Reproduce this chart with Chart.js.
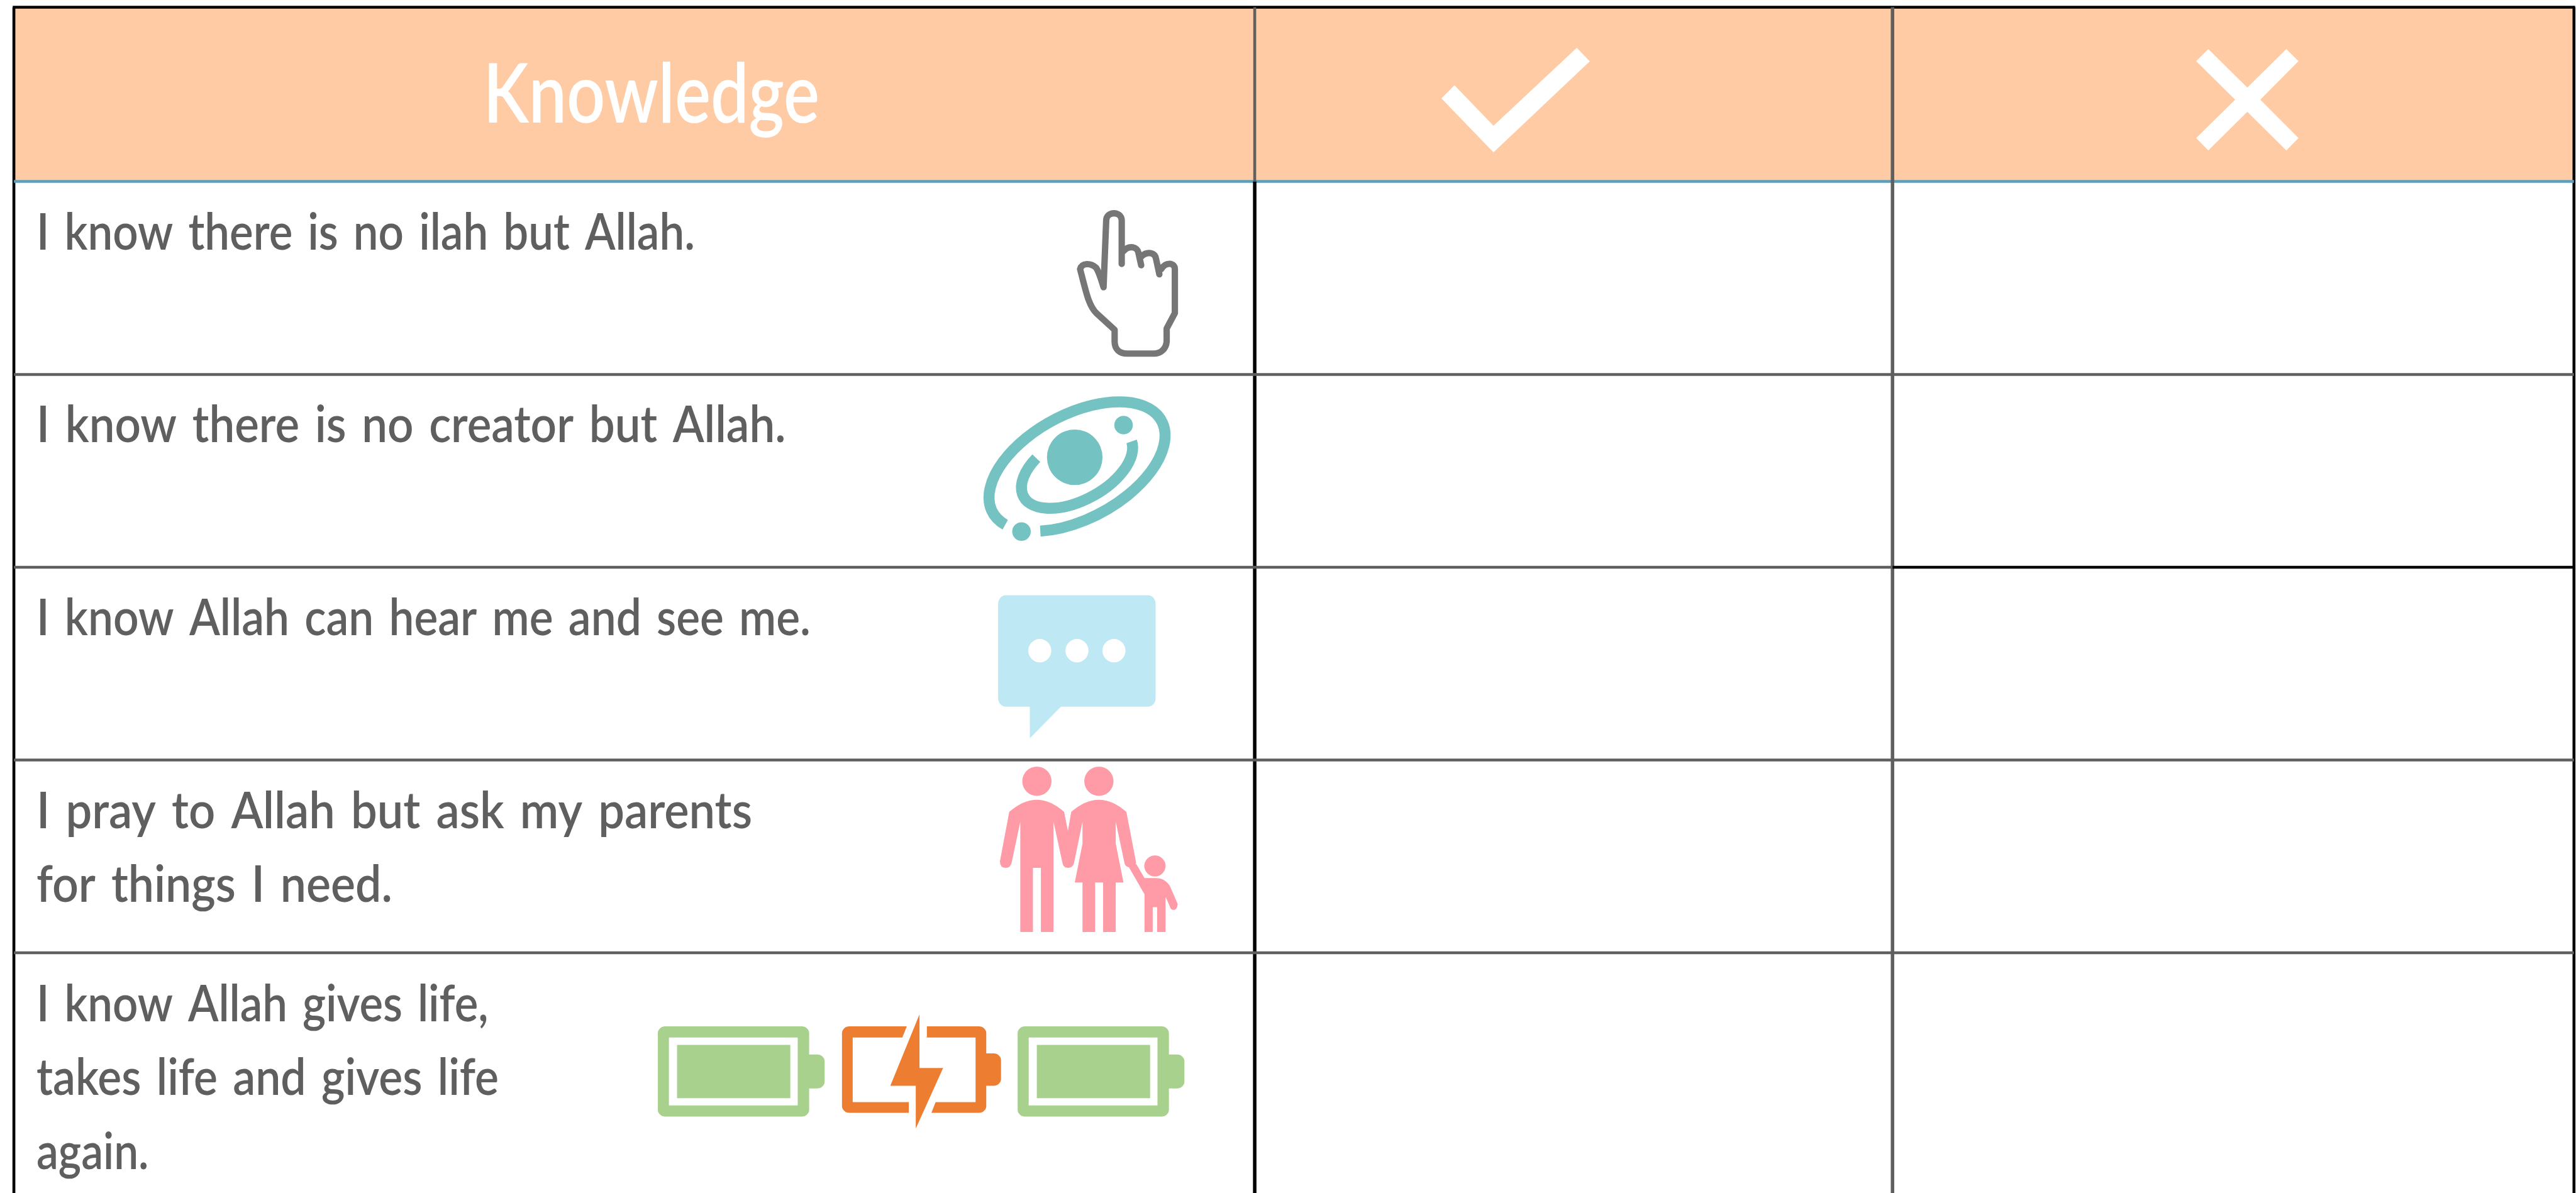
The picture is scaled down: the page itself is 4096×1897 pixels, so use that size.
<!DOCTYPE html>
<html><head><meta charset="utf-8">
<style>html,body{margin:0;padding:0;background:#fff;overflow:hidden}canvas{display:block}</style>
<script src="https://cdn.jsdelivr.net/npm/chart.js@4"></script>
</head><body><canvas id="c" width="4096" height="1897"></canvas>
<script>
// ---- table content ----
const headerLabel = "Knowledge";
const rowTexts = [
  ["I know there is no ilah but Allah."],
  ["I know there is no creator but Allah."],
  ["I know Allah can hear me and see me."],
  ["I pray to Allah but ask my parents", "for things I need."],
  ["I know Allah gives life,", "takes life and gives life", "again."]
];
// ---- reference-space layout (4451 x 2061) ----
const columnEdges = [24, 2168, 3270, 4447.5];
const rowEdges = [12.5, 313.5, 647, 980, 1313, 1646, 2061];
const textLeft = 63;
const rowBaselines = [[431],[764],[1097],[1430.5,1558],[1764,1892,2020]];
const rowWidths = [[1138],[1295],[1338],[1237,615],[781,799,194]];
// ---- colours ----
const peach="#FFCBA4", blue="#5B9FBD", gray="#5F5F5F", ink="#000000";

const vert = (x,a,b,c,w)=>({data:[{x,y:a},{x,y:b}],borderColor:c,borderWidth:w*0.92,pointRadius:0,fill:false,order:0});
const horiz = (y,a,b,c,w)=>({data:[{x:a,y},{x:b,y}],borderColor:c,borderWidth:w*0.92,pointRadius:0,fill:false,order:0});
const L=columnEdges[0],C1=columnEdges[1],C2=columnEdges[2],R=columnEdges[3];
const datasets=[
  {data:[{x:L,y:rowEdges[0]},{x:R,y:rowEdges[0]}],borderWidth:0,pointRadius:0,fill:false,order:5},
  {data:[{x:L,y:rowEdges[1]},{x:R,y:rowEdges[1]}],borderWidth:0,pointRadius:0,fill:'-1',backgroundColor:peach,order:5},
  horiz(rowEdges[2],L,R,gray,5), horiz(rowEdges[3],L,C2,gray,5), horiz(rowEdges[3],C2,R,ink,5),
  horiz(rowEdges[4],L,R,gray,5), horiz(rowEdges[5],L,R,gray,5),
  vert(C1,rowEdges[0],rowEdges[1],gray,5), vert(C2,rowEdges[0],rowEdges[6],gray,6),
  vert(C1,rowEdges[1],rowEdges[6],ink,6),
  horiz(rowEdges[1],L,R,blue,5),
  horiz(rowEdges[0],L-2,R+2,ink,5),
  vert(L,rowEdges[0],rowEdges[6],ink,5), vert(R,rowEdges[0],rowEdges[6],ink,5)
];

const K=0.92;
function inZoom(ctx,ox,oy,sx,sy,fn){ctx.save();ctx.translate(ox*K,oy*K);ctx.scale(K/sx,K/sy);ctx.beginPath();fn(ctx);ctx.restore();}
function poly(c,pts){pts.forEach((p,i)=>i?c.lineTo(p[0],p[1]):c.moveTo(p[0],p[1]));c.closePath();}

const tablePlugin={id:'tablePlugin',afterDatasetsDraw(chart){
  const ctx=chart.ctx,xs=chart.scales.x,ys=chart.scales.y;
  const px=v=>xs.getPixelForValue(v),py=v=>ys.getPixelForValue(v);
  ctx.save();
  // header text and marks
  ctx.textBaseline='alphabetic';ctx.textAlign='left';
  ctx.fillStyle='#fff';
  ctx.font='600 '+(143*K)+'px Lato';
  ctx.fillText(headerLabel,px(835),py(212),581*K);
  inZoom(ctx,2100,0,0.667,3,c=>{
    poly(c,[[276,442],[321,652],[417,248],[432,318],[321,790],[261,510]]);
    poly(c,[[1145,254],[1190,454],[1235,254],[1249,317],[1205,517],[1249,716],[1235,780],[1190,580],[1145,780],[1131,716],[1176,517],[1131,317]]);
  });
  ctx.fill('nonzero');
  // row text
  ctx.fillStyle=gray;
  ctx.font='600 '+(88*K)+'px Lato';
  ctx.wordSpacing=(8*K)+'px';
  rowTexts.forEach((lines,r)=>lines.forEach((t,i)=>{
    ctx.fillText(t,px(textLeft),py(rowBaselines[r][i]),rowWidths[r][i]*K);
  }));
  ctx.wordSpacing='0px';
  // hand
  inZoom(ctx,1600,300,2.613,2.24,c=>{
    c.moveTo(803,440);c.lineTo(815,180);c.bezierCurveTo(818,145,882,145,885,180);c.lineTo(885,350);
    c.moveTo(893,300);c.bezierCurveTo(920,275,955,285,960,305);c.lineTo(973,355);
    c.moveTo(975,320);c.bezierCurveTo(1000,300,1035,305,1040,330);c.lineTo(1055,390);
    c.moveTo(1063,370);c.bezierCurveTo(1085,340,1125,345,1125,370);c.lineTo(1125,540);c.lineTo(1088,600);c.lineTo(1088,650);
    c.bezierCurveTo(1085,680,1060,697,1030,697);c.lineTo(910,697);c.bezierCurveTo(875,697,853,680,853,650);c.lineTo(853,605);
    c.lineTo(770,540);c.bezierCurveTo(735,510,725,460,697,370);c.bezierCurveTo(705,345,745,345,770,365);c.bezierCurveTo(785,385,795,420,803,440);
  });
  ctx.strokeStyle='#767676';ctx.lineWidth=11*K;ctx.lineJoin='round';ctx.lineCap='round';ctx.stroke();
  // galaxy
  const deg=Math.PI/180;
  ctx.strokeStyle='#75C2C2';ctx.fillStyle='#75C2C2';ctx.lineWidth=19*K;ctx.lineCap='butt';
  ctx.beginPath();ctx.ellipse(px(1861),py(806),166*K,90*K,-28.4*deg,161*deg,131*deg);ctx.stroke();
  ctx.beginPath();ctx.ellipse(px(1861),py(808),105*K,56*K,-28.4*deg,5*deg,239*deg);ctx.stroke();
  [[1857,790,48],[1941.4,734.4,16],[1765,918.3,16]].forEach(d=>{ctx.beginPath();ctx.arc(px(d[0]),py(d[1]),d[2]*K,0,7);ctx.fill();});
  // speech bubble
  ctx.fillStyle='#BEE9F4';
  inZoom(ctx,1600,990,2.613,2.376,c=>{
    c.roundRect(327,92,711,458,[35]);
  });
  ctx.fill();
  inZoom(ctx,1600,990,2.613,2.376,c=>{
    poly(c,[[470,545],[616,545],[470,680]]);
  });
  ctx.fill();
  ctx.fillStyle='#fff';
  inZoom(ctx,1600,990,2.613,2.376,c=>{
    [515,683,850].forEach(x=>{c.moveTo(x+52,320);c.ellipse(x,320,52,48,0,0,7);});
  });
  ctx.fill();
  // family
  ctx.fillStyle='#FE9BA6';
  inZoom(ctx,1600,990,2.613,2.376,c=>{
    c.moveTo(568,856);c.ellipse(502,856,66,60,0,0,7);
    c.moveTo(848,856);c.ellipse(782,856,66,60,0,0,7);
    c.moveTo(1083,1204);c.ellipse(1035,1204,48,43,0,0,7);
    // man
    c.moveTo(377,982);c.quadraticCurveTo(502,882,625,982);c.lineTo(670,1190);
    c.quadraticCurveTo(665,1212,643,1212);c.quadraticCurveTo(620,1212,617,1190);
    c.lineTo(577,1022);c.lineTo(577,1475);c.lineTo(520,1475);c.lineTo(520,1212);c.lineTo(484,1212);c.lineTo(484,1475);c.lineTo(427,1475);c.lineTo(427,1022);
    c.lineTo(388,1190);c.quadraticCurveTo(383,1212,362,1212);c.quadraticCurveTo(335,1212,335,1185);c.closePath();
    // woman
    c.moveTo(657,982);c.quadraticCurveTo(782,882,906,982);c.lineTo(950,1190);
    c.quadraticCurveTo(945,1210,925,1210);c.quadraticCurveTo(900,1210,897,1190);
    c.lineTo(858,1022);c.lineTo(858,1112);c.lineTo(893,1272);c.lineTo(858,1272);c.lineTo(858,1475);c.lineTo(801,1475);c.lineTo(801,1272);c.lineTo(765,1272);c.lineTo(765,1475);c.lineTo(708,1475);c.lineTo(708,1272);c.lineTo(673,1272);c.lineTo(708,1112);c.lineTo(708,1022);
    c.lineTo(670,1190);c.lineTo(617,1190);c.closePath();
    // child
    c.moveTo(950,1195);c.lineTo(988,1254);c.lineTo(1040,1254);c.quadraticCurveTo(1080,1254,1103,1287);c.lineTo(1138,1360);
    c.quadraticCurveTo(1135,1385,1118,1385);c.quadraticCurveTo(1105,1382,1103,1372);c.lineTo(1083,1330);c.lineTo(1083,1475);c.lineTo(1045,1475);c.lineTo(1045,1373);c.lineTo(1025,1373);c.lineTo(1025,1475);c.lineTo(988,1475);c.lineTo(988,1320);c.lineTo(918,1210);c.closePath();
  });
  ctx.fill('nonzero');
  // batteries
  const battery=(dx)=>{
    ctx.fillStyle='#A9D18E';
    inZoom(ctx,1100,1700,1.568,3,c=>{c.roundRect(58+dx,222,410,468,[{x:20,y:36}]);c.roundRect(450+dx,368,60,176,[{x:20,y:36}]);});ctx.fill();
    ctx.fillStyle='#fff';inZoom(ctx,1100,1700,1.568,3,c=>{c.rect(88+dx,280,349,352);});ctx.fill();
    ctx.fillStyle='#A9D18E';inZoom(ctx,1100,1700,1.568,3,c=>{c.rect(110+dx,318,307,276);});ctx.fill();
  };
  battery(0);battery(975);
  ctx.fillStyle='#ED7D31';
  inZoom(ctx,1100,1700,1.568,3,c=>{c.roundRect(557,222,391,448,[{x:20,y:36}]);c.roundRect(930,362,58,168,[{x:20,y:36}]);});ctx.fill();
  ctx.fillStyle='#fff';
  inZoom(ctx,1100,1700,1.568,3,c=>{c.rect(586,280,333,335);poly(c,[[733,220],[787,220],[787,282],[720,282]]);poly(c,[[738,613],[811,613],[799,672],[738,672]]);});ctx.fill();
  ctx.fillStyle='#ED7D31';
  inZoom(ctx,1100,1700,1.568,3,c=>{poly(c,[[767,160],[767,438],[831,438],[757,752],[757,530],[688,530]]);});ctx.fill();
  ctx.restore();
}};

new Chart(document.getElementById('c'),{
  type:'line',
  data:{datasets},
  options:{
    responsive:false,animation:false,parsing:true,
    layout:{padding:0},
    plugins:{legend:{display:false},tooltip:{enabled:false},title:{display:false}},
    elements:{line:{tension:0,borderCapStyle:'butt'}},
    scales:{
      x:{type:'linear',min:0,max:4451,display:false},
      y:{type:'linear',min:0,max:2061,reverse:true,display:false}
    }
  },
  plugins:[tablePlugin]
});
</script></body></html>
